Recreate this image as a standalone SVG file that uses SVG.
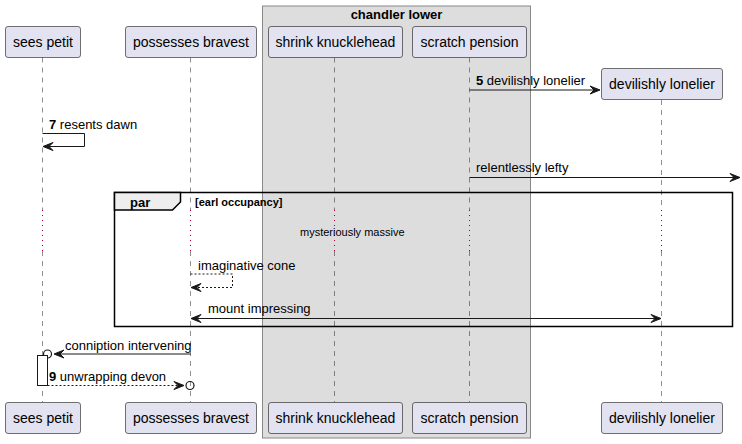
<svg xmlns="http://www.w3.org/2000/svg" width="742" height="444" viewBox="0 0 742 444">
<style>
.p{fill:#E2E2F0;stroke:#181818;stroke-width:0.6}
.pt{font-family:"Liberation Sans",Arial,sans-serif;font-size:14px;fill:#000;text-anchor:middle}
.life{stroke:#181818;stroke-width:0.6;stroke-dasharray:5,5;fill:none;opacity:0.8}
.dly{stroke:#A80036;stroke-width:1;stroke-dasharray:1,4;fill:none}
.m{stroke:#181818;stroke-width:1;fill:none}
.md{stroke:#181818;stroke-width:1;fill:none;stroke-dasharray:2,2}
.ah{fill:#181818;stroke:#181818;stroke-width:1}
.lb{font-family:"Liberation Sans",Arial,sans-serif;font-size:13px;fill:#000}
.b{font-weight:bold}
</style>
<rect id="box-chandler" x="262.5" y="6" width="268" height="432" fill="#DDDDDD" stroke="#888888" stroke-width="1"/>
<text x="396.5" y="19" class="lb b" text-anchor="middle">chandler lower</text>
<g id="lifelines">
<path class="life" d="M42.5,57.5V210M42.5,251V402"/>
<path class="life" d="M190.5,57.5V210M190.5,251V402"/>
<path class="life" d="M334.5,57.5V210M334.5,251V402"/>
<path class="life" d="M469.5,57.5V210M469.5,251V402"/>
<path class="life" d="M661.5,100V210M661.5,251V402"/>
<path class="dly" d="M42.5,210V251M190.5,210V251M334.5,210V251M469.5,210V251M661.5,210V251"/>
</g>
<g id="par-frame">
<rect x="114.5" y="192.5" width="618" height="134" fill="none" stroke="#000" stroke-width="1.5"/>
<path d="M114.5,192.5H180.5V202L172.5,210H114.5Z" fill="#EEEEEE" stroke="#000" stroke-width="1.5"/>
<text x="130" y="207" class="lb b">par</text>
<text x="195" y="206" class="lb b" style="font-size:11px">[earl occupancy]</text>
</g>
<text x="300" y="236" class="lb" style="font-size:11px">mysteriously massive</text>
<g id="connectors">
<line class="m" x1="469.5" y1="90" x2="598" y2="90"/>
<polygon class="ah" points="590,86 600,90 590,94 594,90"/>
<text x="476" y="85" class="lb"><tspan class="b">5</tspan> devilishly lonelier</text>
<path class="m" d="M42.5,133.5H84.5V146.5H44"/>
<polygon class="ah" points="53,142.5 43,146.5 53,150.5 49,146.5"/>
<text x="49" y="129" class="lb"><tspan class="b">7</tspan> resents dawn</text>
<line class="m" x1="469.5" y1="177.5" x2="738" y2="177.5"/>
<polygon class="ah" points="730,173.5 740,177.5 730,181.5 734,177.5"/>
<text x="476" y="172" class="lb">relentlessly lefty</text>
<path class="md" d="M190.5,274H232.5V287.5H192"/>
<polygon class="ah" points="201,283.5 191,287.5 201,291.5 197,287.5"/>
<text x="198" y="270" class="lb">imaginative cone</text>
<line class="m" x1="192" y1="318.5" x2="659" y2="318.5"/>
<polygon class="ah" points="201,314.5 191,318.5 201,322.5 197,318.5"/>
<polygon class="ah" points="651,314.5 661,318.5 651,322.5 655,318.5"/>
<text x="208" y="313" class="lb">mount impressing</text>
<line class="m" x1="190.5" y1="354" x2="56" y2="354"/>
<polygon class="ah" points="64,350 54,354 64,358 60,354"/>
<circle cx="47.5" cy="354" r="4" fill="none" stroke="#181818" stroke-width="1.2"/>
<text x="65" y="350" class="lb">conniption intervening</text>
<rect id="activation" x="37.5" y="355.5" width="10" height="30" fill="#FFFFFF" stroke="#181818" stroke-width="1"/>
<line class="md" x1="47.5" y1="385.5" x2="182" y2="385.5"/>
<polygon class="ah" points="174,381.5 184,385.5 174,389.5 178,385.5"/>
<circle cx="190" cy="385.5" r="4" fill="none" stroke="#181818" stroke-width="1.2"/>
<text x="49" y="381" class="lb"><tspan class="b">9</tspan> unwrapping devon</text>
</g>
<g id="sees-petit">
<rect class="p" x="5.5" y="26.5" width="75" height="31" rx="2.5"/>
<text class="pt" x="43" y="47">sees petit</text>
<rect class="p" x="5.5" y="402.5" width="75" height="31" rx="2.5"/>
<text class="pt" x="43" y="423">sees petit</text>
</g>
<g id="possesses-bravest">
<rect class="p" x="125.5" y="26.5" width="131" height="31" rx="2.5"/>
<text class="pt" x="191" y="47">possesses bravest</text>
<rect class="p" x="125.5" y="402.5" width="131" height="31" rx="2.5"/>
<text class="pt" x="191" y="423">possesses bravest</text>
</g>
<g id="shrink-knucklehead">
<rect class="p" x="268.5" y="26.5" width="134" height="31" rx="2.5"/>
<text class="pt" x="335.5" y="47">shrink knucklehead</text>
<rect class="p" x="268.5" y="402.5" width="134" height="31" rx="2.5"/>
<text class="pt" x="335.5" y="423">shrink knucklehead</text>
</g>
<g id="scratch-pension">
<rect class="p" x="412.5" y="26.5" width="114" height="31" rx="2.5"/>
<text class="pt" x="469.5" y="47">scratch pension</text>
<rect class="p" x="412.5" y="402.5" width="114" height="31" rx="2.5"/>
<text class="pt" x="469.5" y="423">scratch pension</text>
</g>
<g id="devilishly-lonelier">
<rect class="p" x="601.5" y="68.5" width="121" height="31" rx="2.5"/>
<text class="pt" x="662" y="89">devilishly lonelier</text>
<rect class="p" x="601.5" y="402.5" width="121" height="31" rx="2.5"/>
<text class="pt" x="662" y="423">devilishly lonelier</text>
</g>
</svg>
